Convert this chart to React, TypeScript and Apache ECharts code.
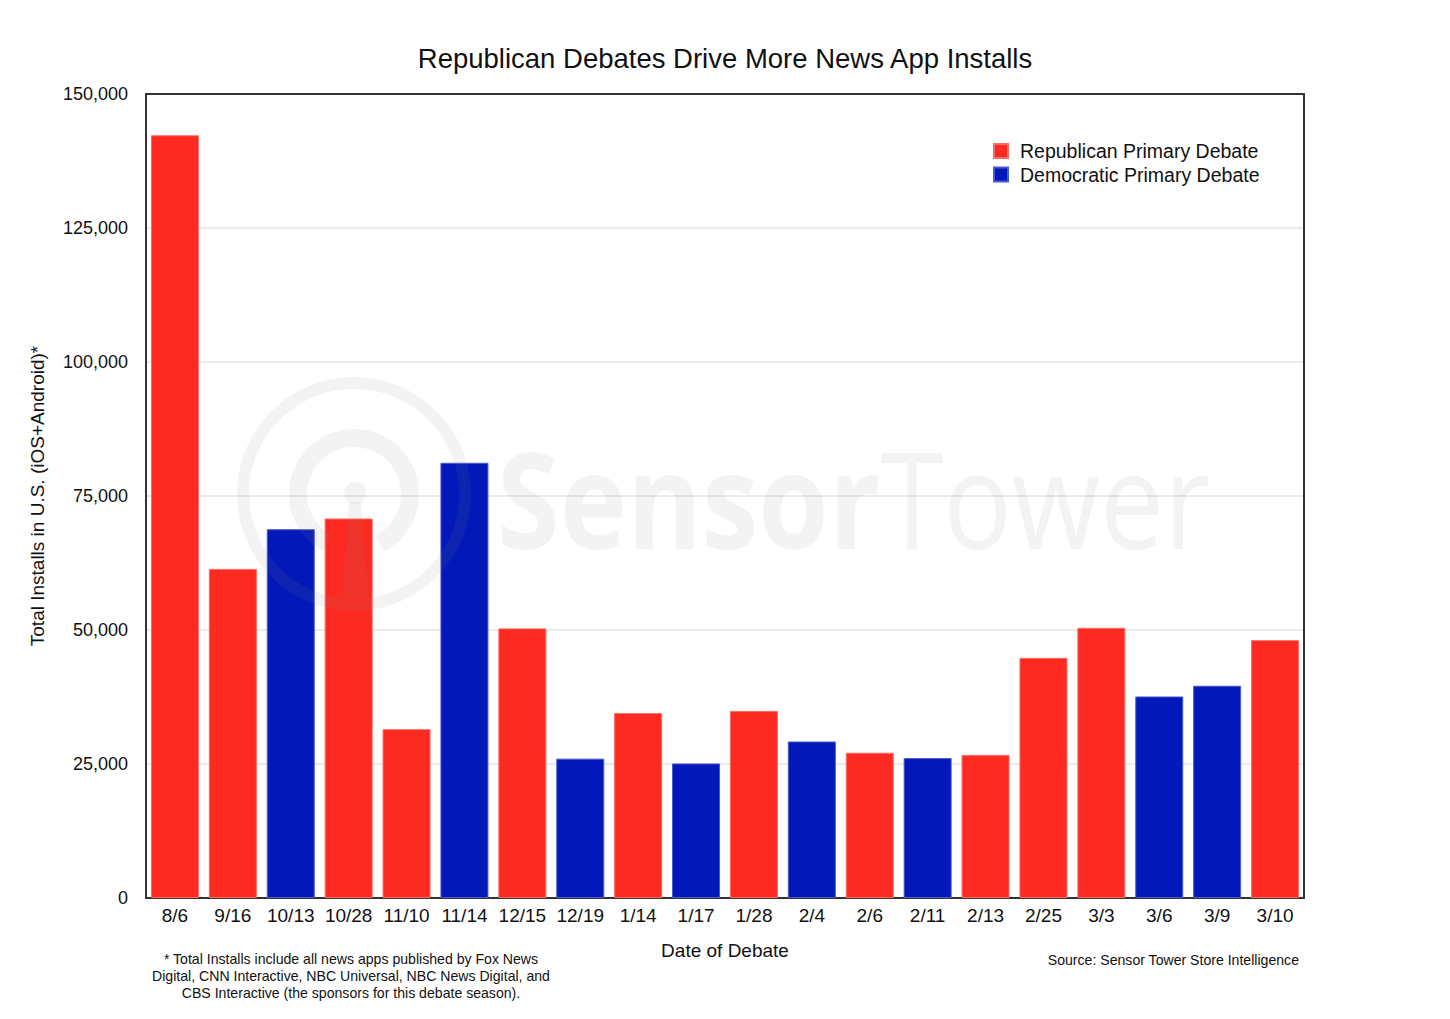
import React, { useEffect, useRef } from "react";
import * as echarts from "echarts";

const TITLE = "Republican Debates Drive More News App Installs";
const categories = ["8/6", "9/16", "10/13", "10/28", "11/10", "11/14", "12/15", "12/19", "1/14", "1/17", "1/28", "2/4", "2/6", "2/11", "2/13", "2/25", "3/3", "3/6", "3/9", "3/10"];
const republicanInstalls = [142300, 61400, null, 70800, 31500, null, 50300, null, 34500, null, 34900, null, 27100, null, 26700, 44800, 50400, null, null, 48100];
const democraticInstalls = [null, null, 68800, null, null, 81200, null, 26000, null, 25100, null, 29200, null, 26100, null, null, null, 37600, 39600, null];
const seriesNames = ["Republican Primary Debate", "Democratic Primary Debate"];
const yTicks = { min: 0, max: 150000, interval: 25000 };
const footnote = "* Total Installs include all news apps published by Fox News\nDigital, CNN Interactive, NBC Universal, NBC News Digital, and\nCBS Interactive (the sponsors for this debate season).";
const source = "Source: Sensor Tower Store Intelligence";

const FONT = "'Liberation Sans', Arial, Helvetica, sans-serif";
const RED = "#FC2A21";
const BLUE = "#0218B8";
const WM = "rgba(135,135,135,0.1)";
const FRAME = "#333";

export default function App() {
  const ref = useRef<HTMLDivElement>(null);
  useEffect(() => {
    if (!ref.current) return;
    const chart = echarts.init(ref.current, null, { renderer: "svg" });
    const toData = (arr: (number | null)[]) => arr.map((v) => (v == null ? "-" : v));
    const cx = 354, cy = 494;
    const option: any = {
      animation: false,
      backgroundColor: "#ffffff",
      textStyle: { fontFamily: FONT },
      title: {
        text: TITLE,
        left: "center",
        top: 44,
        padding: 0,
        textStyle: { fontFamily: FONT, fontSize: 27.5, fontWeight: "normal", color: "#111" },
      },
      legend: {
        orient: "vertical",
        left: 993,
        top: 141,
        padding: 0,
        icon: "rect",
        itemWidth: 14,
        itemHeight: 14,
        itemGap: 3.5,
        textStyle: { fontFamily: FONT, fontSize: 19.5, lineHeight: 19.5, color: "#111", padding: [0, 0, 0, 7] },
        data: seriesNames,
      },
      grid: {
        left: 146,
        right: 146,
        top: 94,
        bottom: 121,
        show: false,
        containLabel: false,
      },
      xAxis: [
        {
          type: "category",
          data: categories,
          name: "Date of Debate",
          nameLocation: "middle",
          nameGap: 43,
          nameTextStyle: { fontFamily: FONT, fontSize: 19, color: "#111" },
          axisLine: { show: true, lineStyle: { color: FRAME, width: 2 } },
          axisTick: { show: false },
          axisLabel: { fontFamily: FONT, fontSize: 19, color: "#111", margin: 8, interval: 0 },
        },
        {
          type: "category",
          data: categories,
          position: "top",
          axisLine: { show: true, onZero: false, lineStyle: { color: FRAME, width: 2 } },
          axisTick: { show: false },
          axisLabel: { show: false },
          splitLine: { show: false },
          z: 10,
        },
      ],
      yAxis: [
        {
          type: "value",
          min: yTicks.min,
          max: yTicks.max,
          interval: yTicks.interval,
          name: "Total Installs in U.S. (iOS+Android)*",
          nameLocation: "middle",
          nameGap: 99,
          nameTextStyle: { fontFamily: FONT, fontSize: 19, color: "#111" },
          axisLine: { show: true, lineStyle: { color: FRAME, width: 2 } },
          axisTick: { show: false },
          axisLabel: {
            fontFamily: FONT,
            fontSize: 18,
            color: "#111",
            margin: 18,
            formatter: (v: number) => v.toLocaleString("en-US"),
          },
          splitLine: { show: true, lineStyle: { color: "#ebebeb", width: 2 } },
        },
        {
          type: "value",
          min: yTicks.min,
          max: yTicks.max,
          interval: yTicks.interval,
          position: "right",
          axisLine: { show: true, onZero: false, lineStyle: { color: FRAME, width: 2 } },
          axisTick: { show: false },
          axisLabel: { show: false },
          splitLine: { show: false },
          z: 10,
        },
      ],
      series: [
        {
          name: seriesNames[0],
          type: "bar",
          stack: "total",
          barWidth: 48,
          data: toData(republicanInstalls),
          itemStyle: { color: RED, borderColor: "#ff6a60", borderWidth: 1 },
        },
        {
          name: seriesNames[1],
          type: "bar",
          stack: "total",
          barWidth: 48,
          data: toData(democraticInstalls),
          itemStyle: { color: BLUE, borderColor: "#4a5ad0", borderWidth: 1 },
        },
      ],
      color: [RED, BLUE],
      graphic: [
        {
          type: "group",
          z: 50,
          silent: true,
          children: [
            { type: "ring", z: 50, shape: { cx, cy, r: 117, r0: 105 }, style: { fill: WM } },
            {
              type: "arc",
              z: 50,
              shape: { cx, cy, r: 56, startAngle: (119 * Math.PI) / 180, endAngle: (422.6 * Math.PI) / 180, clockwise: true },
              style: { stroke: WM, lineWidth: 18, fill: null },
            },
            { type: "circle", z: 50, shape: { cx: 355, cy: 493, r: 11 }, style: { fill: WM } },
            {
              type: "polygon",
              z: 50,
              shape: { points: [[349, 502], [361, 502], [369, 598], [342, 598]] },
              style: { fill: WM },
            },
            {
              type: "text",
              z: 50,
              x: 497,
              y: 497,
              scaleX: 0.856,
              style: {
                text: "{b|Sensor}{r|Tower}",
                fill: WM,
                verticalAlign: "middle",
                align: "left",
                rich: {
                  b: { fontFamily: "'Open Sans'", fontSize: 133, fontWeight: "bold", fill: WM },
                  r: { fontFamily: "'Open Sans'", fontSize: 133, fontWeight: "normal", fill: WM },
                },
              },
            },
          ],
        },
        {
          type: "text",
          x: 351,
          y: 950,
          style: {
            text: footnote,
            fontFamily: FONT,
            fontSize: 14.1,
            lineHeight: 17,
            fill: "#111",
            align: "center",
            verticalAlign: "top",
          },
        },
        {
          type: "text",
          x: 1299,
          y: 960,
          style: { text: source, fontFamily: FONT, fontSize: 14.1, fill: "#111", align: "right", verticalAlign: "middle" },
        },
      ],
    };
    chart.setOption(option);
    return () => chart.dispose();
  }, []);
  return <div ref={ref} style={{ position: "absolute", left: 0, top: 0, width: 1450, height: 1019 }} />;
}
